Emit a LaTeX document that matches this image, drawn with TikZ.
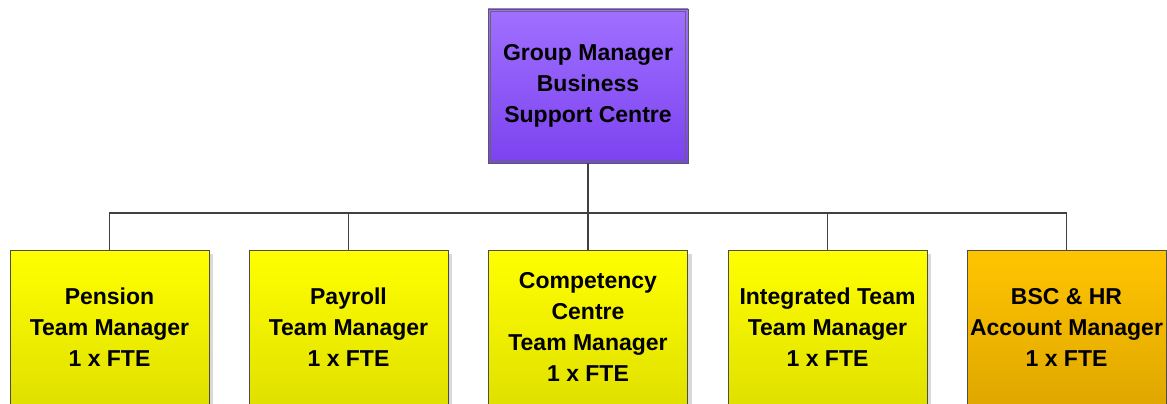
\documentclass[tikz,border=0pt]{standalone}
\usepackage{fontspec}
\setmainfont{Liberation Sans}
\begin{document}
\begin{tikzpicture}[x=1pt,y=-1pt,
  box/.style={rectangle, minimum width=199pt, minimum height=154pt, inner sep=0pt, align=center,
    draw=black!70, line width=0.8pt, font=\bfseries\fontsize{23}{31}\selectfont},
  yel/.style={box, top color=yellow, bottom color=yellow!88!black},
  org/.style={box, top color={rgb,255:red,255;green,196;blue,0}, bottom color={rgb,255:red,224;green,168;blue,0}},
  shade/.style={fill=black!15, draw=none},
  conn/.style={draw=black!75, line width=1.7pt}]
\useasboundingbox (0,0) rectangle (1167,404);
% top box
\node[box, minimum width=200pt, minimum height=154pt, top color={rgb,255:red,160;green,112;blue,255}, bottom color={rgb,255:red,124;green,66;blue,240}, draw=black!65] (top) at (588,86) {Group Manager\\Business\\Support Centre};
\draw[black!60, line width=0.8pt] ([shift={(3,3)}]top.north west) rectangle ([shift={(-3,-3)}]top.south east);
% shadows
\foreach \cx in {109.5,348.5,588,827.5,1066.5}{
  \fill[shade] (\cx+99.5,254) rectangle (\cx+103.5,404);
}
% bottom boxes
\node[yel] (b1) at (109.5,327) {Pension\\Team Manager\\1 x FTE};
\node[yel] (b2) at (348.5,327) {Payroll\\Team Manager\\1 x FTE};
\node[yel] (b3) at (588,327) {Competency\\Centre\\Team Manager\\1 x FTE};
\node[yel] (b4) at (827.5,327) {Integrated Team\\Team Manager\\1 x FTE};
\node[org] (b5) at (1066.5,327) {BSC \& HR\\Account Manager\\1 x FTE};
% connectors
\coordinate (bus) at (588,213);
\draw[conn] (top.south) -- (b3.north);
\draw[conn] (b1.north) |- (bus);
\draw[conn] (b5.north) |- (bus);
\draw[conn] (b2.north) -- (b2.north |- bus);
\draw[conn] (b4.north) -- (b4.north |- bus);
\end{tikzpicture}
\end{document}
